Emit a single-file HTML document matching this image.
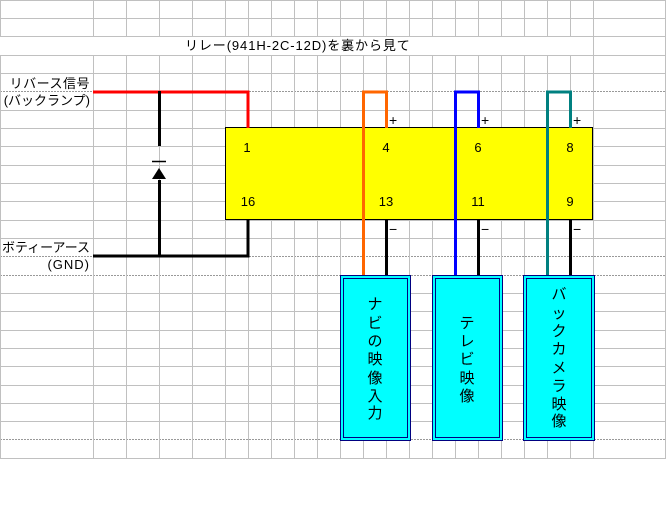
<!DOCTYPE html>
<html><head><meta charset="utf-8"><style>
html,body{margin:0;padding:0;background:#fff;}
svg{display:block;}
text{font-family:"Liberation Sans","Noto Sans CJK JP",sans-serif;font-size:13px;fill:#000;}
.v{font-size:15px;}
.pm{font-size:14px;}
</style></head><body>
<svg width="666" height="512" viewBox="0 0 666 512" xmlns="http://www.w3.org/2000/svg">
<g stroke="#c0c0c0" stroke-width="1" shape-rendering="crispEdges">
<line x1="0" y1="0.5" x2="666" y2="0.5"/>
<line x1="0" y1="18.5" x2="666" y2="18.5"/>
<line x1="0" y1="36.5" x2="666" y2="36.5"/>
<line x1="0" y1="55.5" x2="666" y2="55.5"/>
<line x1="0" y1="73.5" x2="666" y2="73.5"/>
<line x1="0" y1="91.5" x2="666" y2="91.5" stroke="#999" stroke-dasharray="2,1"/>
<line x1="0" y1="110.5" x2="666" y2="110.5"/>
<line x1="0" y1="128.5" x2="666" y2="128.5"/>
<line x1="0" y1="146.5" x2="666" y2="146.5"/>
<line x1="0" y1="165.5" x2="666" y2="165.5"/>
<line x1="0" y1="183.5" x2="666" y2="183.5"/>
<line x1="0" y1="201.5" x2="666" y2="201.5"/>
<line x1="0" y1="220.5" x2="666" y2="220.5"/>
<line x1="0" y1="238.5" x2="666" y2="238.5"/>
<line x1="0" y1="256.5" x2="666" y2="256.5" stroke="#999" stroke-dasharray="2,1"/>
<line x1="0" y1="275.5" x2="666" y2="275.5" stroke="#999" stroke-dasharray="2,1"/>
<line x1="0" y1="293.5" x2="666" y2="293.5"/>
<line x1="0" y1="311.5" x2="666" y2="311.5"/>
<line x1="0" y1="330.5" x2="666" y2="330.5"/>
<line x1="0" y1="348.5" x2="666" y2="348.5"/>
<line x1="0" y1="366.5" x2="666" y2="366.5"/>
<line x1="0" y1="385.5" x2="666" y2="385.5"/>
<line x1="0" y1="403.5" x2="666" y2="403.5"/>
<line x1="0" y1="421.5" x2="666" y2="421.5"/>
<line x1="0" y1="439.5" x2="666" y2="439.5" stroke="#999" stroke-dasharray="2,1"/>
<line x1="0" y1="458.5" x2="666" y2="458.5"/>
</g>
<g stroke="#c0c0c0" stroke-width="1" shape-rendering="crispEdges">
<path d="M0.5 0V36M0.5 55V458 M93.5 0V36M93.5 55V458 M126.5 0V36M126.5 55V458 M159.5 0V36M159.5 55V458 M192.5 0V36M192.5 55V458 M225.5 0V36M225.5 55V458 M248.5 0V36M248.5 55V458 M271.5 0V36M271.5 55V458 M294.5 0V36M294.5 55V458 M317.5 0V36M317.5 55V458 M340.5 0V36M340.5 55V458 M363.5 0V36M363.5 55V458 M386.5 0V36M386.5 55V458 M409.5 0V36M409.5 55V458 M432.5 0V36M432.5 55V458 M455.5 0V36M455.5 55V458 M478.5 0V36M478.5 55V458 M501.5 0V36M501.5 55V458 M524.5 0V36M524.5 55V458 M547.5 0V36M547.5 55V458 M570.5 0V36M570.5 55V458 M593.5 0V458 M665.5 0V458"/>
</g>
<text x="185" y="50" letter-spacing="0.9">リレー(941H-2C-12D)を裏から見て</text>
<text x="90" y="88" text-anchor="end" letter-spacing="0.5">リバース信号</text>
<text x="90" y="105" text-anchor="end">(バックランプ)</text>
<text x="2" y="252" textLength="88" lengthAdjust="spacingAndGlyphs">ボティーアース</text>
<text x="90" y="269" text-anchor="end" letter-spacing="1">(GND)</text>

<rect x="225.5" y="127.5" width="367" height="92" fill="#ffff00" stroke="#000" stroke-width="1"/>
<text x="247" y="152" text-anchor="middle">1</text>
<text x="248" y="206" text-anchor="middle">16</text>
<text x="386" y="152" text-anchor="middle">4</text>
<text x="386" y="206" text-anchor="middle">13</text>
<text x="478" y="152" text-anchor="middle">6</text>
<text x="478" y="206" text-anchor="middle">11</text>
<text x="570" y="152" text-anchor="middle">8</text>
<text x="570" y="206" text-anchor="middle">9</text>
<text class="pm" x="389" y="125">+</text><text class="pm" x="481" y="125">+</text><text class="pm" x="573" y="125">+</text>
<text class="pm" x="389" y="234">−</text><text class="pm" x="481" y="234">−</text><text class="pm" x="573" y="234">−</text>

<polyline points="93,92 248,92 248,128" fill="none" stroke="#ff0000" stroke-width="3"/>
<line x1="159.5" y1="91" x2="159.5" y2="146" stroke="#000" stroke-width="3"/>
<line x1="159.5" y1="180" x2="159.5" y2="257" stroke="#000" stroke-width="3"/>
<line x1="152" y1="161.5" x2="166" y2="161.5" stroke="#000" stroke-width="1.5"/>
<polygon points="159,168 152,179 166,179" fill="#000"/>
<polyline points="93,256 248,256 248,219" fill="none" stroke="#000" stroke-width="3"/>
<polyline points="363.5,275 363.5,92 386.5,92 386.5,128" fill="none" stroke="#ff6600" stroke-width="3"/>
<line x1="386.5" y1="219" x2="386.5" y2="275" stroke="#000" stroke-width="3"/>
<polyline points="455.5,275 455.5,92 478.5,92 478.5,128" fill="none" stroke="#0000ff" stroke-width="3"/>
<line x1="478.5" y1="219" x2="478.5" y2="275" stroke="#000" stroke-width="3"/>
<polyline points="547.5,275 547.5,92 570.5,92 570.5,128" fill="none" stroke="#008080" stroke-width="3"/>
<line x1="570.5" y1="219" x2="570.5" y2="275" stroke="#000" stroke-width="3"/>

<g fill="#00ffff" stroke="#000080" stroke-width="1" shape-rendering="crispEdges">
<rect x="340.5" y="275.5" width="70" height="165"/>
<rect x="343.5" y="278.5" width="64" height="159" fill="none"/>
<rect x="432.5" y="275.5" width="70" height="165"/>
<rect x="435.5" y="278.5" width="64" height="159" fill="none"/>
<rect x="523.5" y="275.5" width="71" height="165"/>
<rect x="526.5" y="278.5" width="65" height="159" fill="none"/>
</g>
<g text-anchor="middle">
<text class="v" x="375" y="309">ナ</text>
<text class="v" x="375" y="328">ビ</text>
<text class="v" x="375" y="346">の</text>
<text class="v" x="375" y="364">映</text>
<text class="v" x="375" y="383">像</text>
<text class="v" x="375" y="401">入</text>
<text class="v" x="375" y="418">力</text>
<text class="v" x="467" y="328">テ</text>
<text class="v" x="467" y="346">レ</text>
<text class="v" x="467" y="364">ビ</text>
<text class="v" x="467" y="383">映</text>
<text class="v" x="467" y="401">像</text>
<text class="v" x="559" y="299">バ</text>
<text class="v" x="559" y="318">ッ</text>
<text class="v" x="559" y="336">ク</text>
<text class="v" x="559" y="354">カ</text>
<text class="v" x="559" y="373">メ</text>
<text class="v" x="559" y="391">ラ</text>
<text class="v" x="559" y="409">映</text>
<text class="v" x="559" y="426">像</text>
</g>
</svg>
</body></html>
